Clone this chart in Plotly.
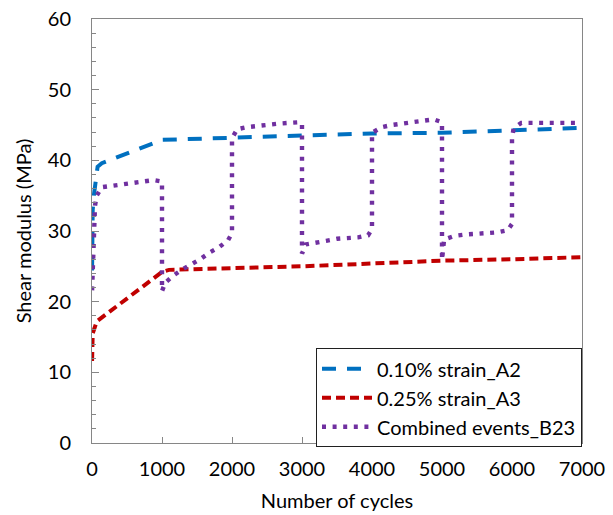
import plotly.graph_objects as go

# Shear modulus vs number of cycles for three loading programmes
cycles_a2 = [1, 10, 30, 80, 140, 1000, 2000, 3000, 4000, 5000, 6000, 7000]
g_a2 = [24.4, 33.0, 35.3, 39.1, 39.6, 42.9, 43.2, 43.5, 43.8, 43.9, 44.3, 44.6]

cycles_a3 = [1, 10, 67, 1000, 1100, 2000, 3000, 4000, 5000, 6000, 7000]
g_a3 = [11.6, 15.5, 17.2, 24.2, 24.5, 24.7, 25.0, 25.4, 25.8, 26.0, 26.3]

cycles_b23 = [
    1, 20, 43, 67, 140, 290, 440, 590, 730, 880, 1000,
    1000, 1048, 1162, 1297, 1425, 1544, 1687, 1815, 1944, 2000,
    2000, 2073, 2216, 2359, 2516, 2673, 2816, 2973, 3000,
    3000, 3055, 3188, 3345, 3502, 3645, 3802, 3945, 4000,
    4000, 4141, 4284, 4431, 4584, 4736, 4879, 5000,
    5000, 5030, 5175, 5332, 5485, 5632, 5785, 5937, 6000,
    6000, 6022, 6132, 6300, 6450, 6600, 6750, 6950,
]
g_b23 = [
    21.6, 30.0, 33.6, 35.0, 36.2, 36.4, 36.6, 36.8, 36.9, 37.2, 37.0,
    21.5, 22.7, 23.7, 24.6, 25.3, 26.0, 27.0, 27.7, 28.7, 29.7,
    43.1, 44.4, 44.7, 44.9, 45.1, 45.2, 45.3, 45.4, 45.2,
    26.8, 28.1, 28.4, 28.6, 28.9, 29.0, 29.1, 29.4, 30.3,
    43.9, 44.7, 45.0, 45.2, 45.3, 45.5, 45.8, 45.4,
    25.9, 28.8, 29.3, 29.5, 29.6, 29.7, 29.8, 30.1, 31.0,
    43.0, 44.5, 45.3, 45.3, 45.3, 45.3, 45.3, 45.3,
]

FONT = "Lato"
AXIS_GREY = "#868686"

fig = go.Figure()
fig.add_trace(go.Scatter(
    x=cycles_a2, y=g_a2, mode="lines", name="0.10% strain_A2",
    line=dict(color="#0070C0", width=4, dash="14px,11px"),
))
fig.add_trace(go.Scatter(
    x=cycles_a3, y=g_a3, mode="lines", name="0.25% strain_A3",
    line=dict(color="#C00000", width=4, dash="9px,5px"),
))
fig.add_trace(go.Scatter(
    x=cycles_b23, y=g_b23, mode="lines", name="Combined events_B23",
    line=dict(color="#7030A0", width=4.4, dash="4px,6.6px"),
))

fig.update_layout(
    width=613, height=515,
    margin=dict(l=92, r=31, t=19, b=72),
    paper_bgcolor="white", plot_bgcolor="white",
    font=dict(family=FONT, size=20, color="black"),
    showlegend=True,
    legend=dict(
        x=1.0, xanchor="right", y=-0.01, yanchor="bottom",
        bgcolor="white", bordercolor="#202020", borderwidth=1,
        font=dict(family=FONT, size=20, color="black"),
        itemwidth=50, tracegroupgap=0,
    ),
    xaxis=dict(
        range=[0, 7000], dtick=1000, tick0=0, automargin=False,
        showline=True, linecolor=AXIS_GREY, linewidth=1, mirror=True,
        ticks="inside", ticklen=6, tickcolor=AXIS_GREY,
        showgrid=False, zeroline=False,
        ticklabelstandoff=8,
        tickfont=dict(family=FONT, size=20, color="black"),
        title=dict(text="Number of cycles", standoff=14,
                   font=dict(family=FONT, size=20, color="black")),
    ),
    yaxis=dict(
        range=[0, 60], dtick=10, tick0=0, automargin=False,
        showline=True, linecolor=AXIS_GREY, linewidth=1, mirror=True,
        ticks="inside", ticklen=7, tickcolor=AXIS_GREY,
        minor=dict(dtick=2, ticks="inside", ticklen=4, tickcolor=AXIS_GREY, showgrid=False),
        showgrid=False, zeroline=False,
        ticklabelstandoff=16,
        tickfont=dict(family=FONT, size=20, color="black"),
        title=dict(text="Shear modulus (MPa)", standoff=10,
                   font=dict(family=FONT, size=20, color="black")),
    ),
)

fig.write_html("out.html")
